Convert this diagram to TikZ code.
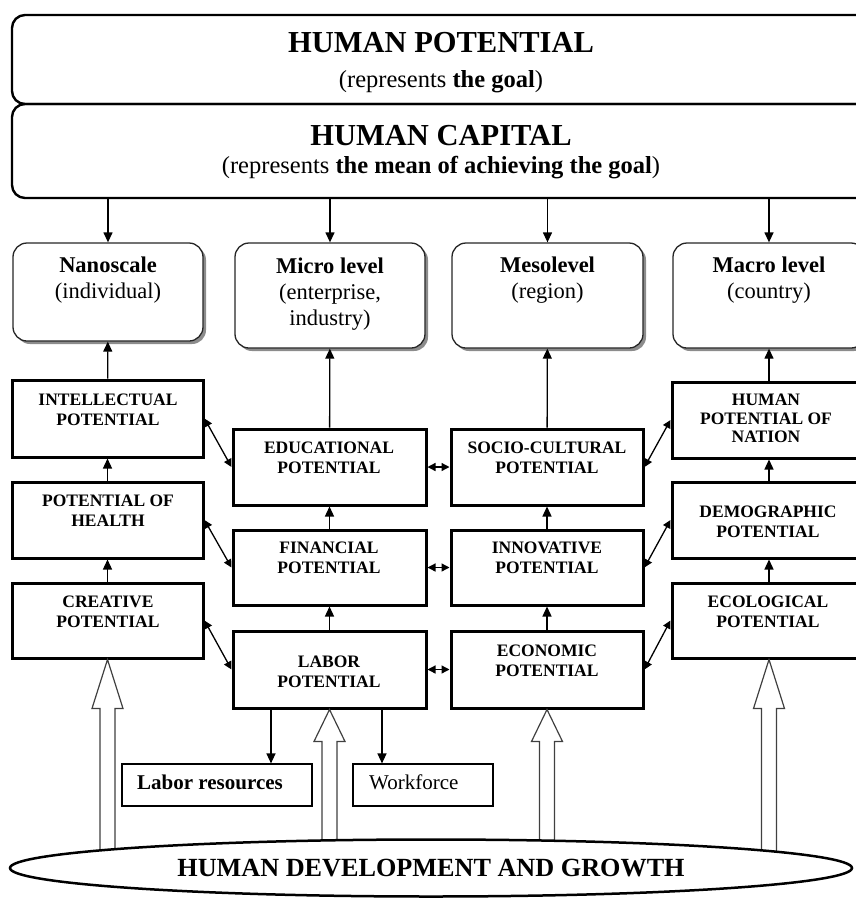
\documentclass[tikz,border=0pt]{standalone}
\usepackage{fontspec}
\setmainfont{Liberation Serif}
\usetikzlibrary{arrows.meta,shapes.geometric,shadows}
\newcommand\hollowarr[3]{\draw[hollowline] (#1) -- ++(-15.5,#2) -- ++(8,0) -- ++(0,#3) -- ++(15,0) -- ++(0,-#3) -- ++(8,0) -- cycle;}
\begin{document}
\begin{tikzpicture}[x=1pt,y=-1pt,
  topbox/.style={draw, line width=2.4pt, rounded corners=13pt, minimum width=860pt, inner sep=0pt},
  toptitle/.style={font=\fontsize{30.5}{34}\selectfont\bfseries, inner sep=0pt},
  topsub/.style={font=\fontsize{24.5}{28}\selectfont, inner sep=0pt},
  levelbox/.style={draw=black!85, line width=1.3pt, rounded corners=14pt, fill=white,
     drop shadow={shadow xshift=3pt, shadow yshift=-3pt, fill=black!45, opacity=1},
     minimum width=190pt, inner sep=0pt},
  leveltext/.style={font=\fontsize{22.5}{26}\selectfont, align=center, inner sep=0pt},
  potbox/.style={draw, line width=3pt, minimum width=192pt, inner sep=0pt},
  pottext/.style={font=\fontsize{17.5}{20}\selectfont\bfseries, align=center, inner sep=0pt},
  smallbox/.style={draw, line width=1.2pt, inner sep=0pt, minimum height=42pt},
  smalltext/.style={font=\fontsize{21}{24}\selectfont, anchor=west, inner sep=0pt},
  arr/.style={line width=1.3pt, -{Triangle[length=10pt,width=9pt]}},
  darr/.style={line width=1.3pt, {Triangle[length=8pt,width=8pt]}-{Triangle[length=8pt,width=8pt]}},
  hollowline/.style={draw=black!75, line width=1.2pt, fill=white}
]
\clip (0,0) rectangle (856,898);

% top boxes
\node[topbox, minimum height=89pt] (hp) at (442,59.5) {};
\node[toptitle] (hpT) at (441,43) {HUMAN POTENTIAL};
\node[topsub] (hpS) at (441,82) {(represents \textbf{the goal})};
\node[topbox, minimum height=94pt] (hc) at (442,151) {};
\node[toptitle] (hcT) at (441,136) {HUMAN CAPITAL};
\node[topsub] (hcS) at (441,168) {(represents \textbf{the mean of achieving the goal})};

% level boxes
\node[levelbox, minimum height=98pt] (nano) at (108,292) {};
\node[levelbox, minimum height=105pt] (micro) at (330,295.5) {};
\node[levelbox, minimum height=105pt, minimum width=191pt] (meso) at (547.5,295.5) {};
\node[levelbox, minimum height=105pt, minimum width=192pt] (macro) at (769,295.5) {};
\node[leveltext] (nanoT) at (108,280) {\textbf{Nanoscale}\\(individual)};
\node[leveltext] (microT) at (330,294) {\textbf{Micro level}\\(enterprise,\\industry)};
\node[leveltext] (mesoT) at (547.5,280.5) {\textbf{Mesolevel}\\(region)};
\node[leveltext] (macroT) at (769,280.5) {\textbf{Macro level}\\(country)};

\foreach \n in {nano,micro,meso,macro}
  \draw[arr] (\n.north |- hc.south) -- (\n.north);

% potential boxes
\node[potbox, minimum height=77pt, minimum width=191pt] (intel) at (107.5,418.5) {};
\node[potbox, minimum height=76pt, minimum width=191pt] (health) at (107.5,520) {};
\node[potbox, minimum height=75pt, minimum width=191pt] (creative) at (107.5,620.5) {};
\node[potbox, minimum height=76pt, minimum width=193pt] (edu) at (329.5,467) {};
\node[potbox, minimum height=75pt, minimum width=193pt] (fin) at (329.5,567.5) {};
\node[potbox, minimum height=77pt, minimum width=193pt] (labor) at (329.5,669.5) {};
\node[potbox, minimum height=76pt] (socio) at (547,467) {};
\node[potbox, minimum height=75pt] (innov) at (547,567.5) {};
\node[potbox, minimum height=77pt] (econ) at (547,669.5) {};
\node[potbox, minimum height=76pt, minimum width=194pt] (nation) at (769,420) {};
\node[potbox, minimum height=76pt, minimum width=194pt] (demo) at (769,520) {};
\node[potbox, minimum height=75pt, minimum width=194pt] (eco) at (769,620.5) {};

\node[pottext] (intelT) at (108,410) {INTELLECTUAL\\POTENTIAL};
\node[pottext] (healthT) at (108,511) {POTENTIAL OF\\HEALTH};
\node[pottext] (creativeT) at (108,611.5) {CREATIVE\\POTENTIAL};
\node[pottext] (eduT) at (329,457.5) {EDUCATIONAL\\POTENTIAL};
\node[pottext] (finT) at (329,558) {FINANCIAL\\POTENTIAL};
\node[pottext] (laborT) at (329,672) {LABOR\\POTENTIAL};
\node[pottext] (socioT) at (547,457.5) {SOCIO-CULTURAL\\POTENTIAL};
\node[pottext] (innovT) at (547,558) {INNOVATIVE\\POTENTIAL};
\node[pottext] (econT) at (547,660.5) {ECONOMIC\\POTENTIAL};
\node[pottext, font=\fontsize{17.5}{18.5}\selectfont\bfseries] (nationT) at (766,418.5) {HUMAN\\POTENTIAL OF\\NATION};
\node[pottext] (demoT) at (768,522) {DEMOGRAPHIC\\POTENTIAL};
\node[pottext] (ecoT) at (768,611.5) {ECOLOGICAL\\POTENTIAL};

% vertical arrows
\draw[arr] (intel) -- (nano);
\draw[arr] (health) -- (intel);
\draw[arr] (creative) -- (health);
\draw[arr] (edu) -- (micro);
\draw[arr] (fin) -- (edu);
\draw[arr] (labor) -- (fin);
\draw[arr] (socio) -- (meso);
\draw[arr] (innov) -- (socio);
\draw[arr] (econ) -- (innov);
\draw[arr] (nation) -- (macro);
\draw[arr] (demo) -- (nation);
\draw[arr] (eco) -- (demo);

% double arrows
\draw[darr] (intel.east) -- (edu.west);
\draw[darr] (health.east) -- (fin.west);
\draw[darr] (creative.east) -- (labor.west);
\draw[darr] (socio.east) -- (nation.west);
\draw[darr] (innov.east) -- (demo.west);
\draw[darr] (econ.east) -- (eco.west);
\draw[darr] (edu.east) -- (socio.west);
\draw[darr] (fin.east) -- (innov.west);
\draw[darr] (labor.east) -- (econ.west);

% small boxes
\node[smallbox, minimum width=190pt] (labres) at (217,785) {};
\node[smalltext, font=\fontsize{21}{24}\selectfont\bfseries] (labresT) at (137,782) {Labor resources};
\node[smallbox, minimum width=140pt] (work) at (423,785) {};
\node[smalltext] (workT) at (369,782) {Workforce};
\coordinate (lr) at (271,700);
\coordinate (wf) at (382,700);
\draw[arr] (lr |- labor.south) -- (lr |- labres.north);
\draw[arr] (wf |- labor.south) -- (wf |- work.north);

% hollow arrows
\hollowarr{creative.south}{49}{150}
\hollowarr{labor.south}{32}{115}
\hollowarr{econ.south}{32}{115}
\hollowarr{eco.south}{49}{150}

% ellipse
\node[ellipse, draw, line width=2.5pt, fill=white, minimum width=842pt, minimum height=57pt, inner sep=0pt,
  font=\fontsize{26.2}{30}\selectfont\bfseries] (hdg) at (431,868) {HUMAN DEVELOPMENT AND GROWTH};
\end{tikzpicture}
\end{document}
